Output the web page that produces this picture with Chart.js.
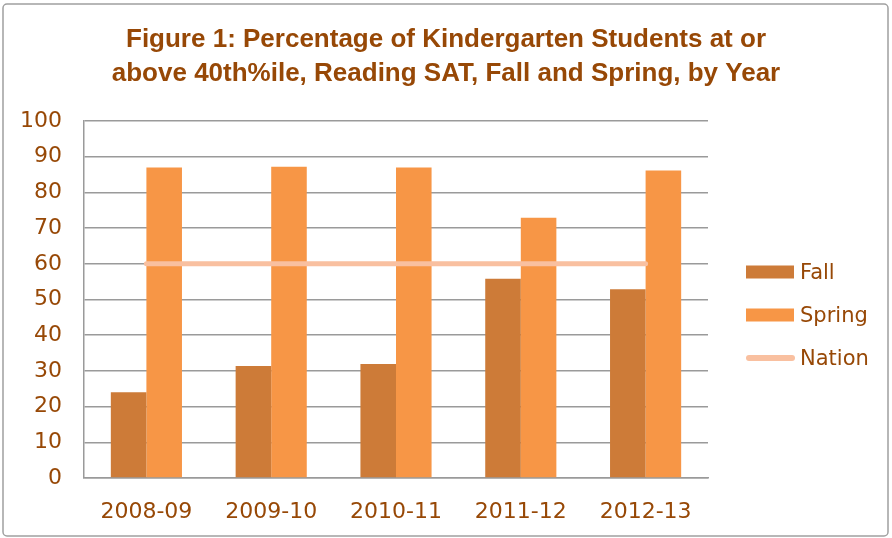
<!DOCTYPE html>
<html>
<head>
<meta charset="utf-8">
<script src="https://cdn.jsdelivr.net/npm/chart.js@4/dist/chart.umd.min.js"></script>
<style>
  html, body { margin: 0; padding: 0; background: #ffffff; }
  #wrap { width: 892px; height: 538px; position: relative; }
</style>
</head>
<body>
<div id="wrap"><canvas id="c" width="892" height="538"></canvas></div>
<script>
const titleLines = ['Figure 1: Percentage of Kindergarten Students at or', 'above 40th%ile, Reading SAT, Fall and Spring, by Year'];
const categories = ['2008-09', '2009-10', '2010-11', '2011-12', '2012-13'];
const fallValues = [24, 31.4, 31.9, 55.8, 52.9];
const springValues = [87, 87.2, 87, 72.9, 86.1];
const nationValues = [60, 60, 60, 60, 60];
const yMin = 0, yMax = 100, yStep = 10;

const TEXT = '#974806';
const FALL = '#CD7B38';
const SPRING = '#F79646';
const NATION = '#F9C0A0';
const GRID = '#9a9a9a';

const frame = {
  id: 'frame',
  beforeDraw(chart) {
    const ctx = chart.ctx;
    ctx.save();
    ctx.fillStyle = '#ffffff';
    ctx.fillRect(0, 0, chart.width, chart.height);
    ctx.strokeStyle = '#a0a0a0';
    ctx.lineWidth = 1.5;
    ctx.beginPath();
    ctx.roundRect(3, 4, chart.width - 7, chart.height - 6, 4);
    ctx.stroke();
    ctx.restore();
  }
};

const sideLegend = {
  id: 'sideLegend',
  afterDraw(chart) {
    const ctx = chart.ctx;
    const area = chart.chartArea;
    const x0 = area.right + 38;
    const sw = 48;
    let y = area.top + 151;
    const order = [1, 2, 0];
    ctx.save();
    order.forEach(i => {
      const ds = chart.data.datasets[i];
      if (ds.type === 'line') {
        ctx.strokeStyle = ds.borderColor;
        ctx.lineWidth = 6;
        ctx.lineCap = 'round';
        ctx.beginPath();
        ctx.moveTo(x0 + 3, y);
        ctx.lineTo(x0 + sw - 2, y);
        ctx.stroke();
      } else {
        ctx.fillStyle = ds.backgroundColor;
        ctx.fillRect(x0, y - 6.5, sw, 13);
      }
      ctx.fillStyle = TEXT;
      ctx.font = '21px "DejaVu Sans"';
      ctx.textBaseline = 'middle';
      ctx.textAlign = 'left';
      ctx.fillText(ds.label, x0 + sw + 6, y + 2);
      y += 43;
    });
    ctx.restore();
  }
};

new Chart(document.getElementById('c'), {
  type: 'bar',
  data: {
    labels: categories,
    datasets: [
      {
        type: 'line',
        label: 'Nation',
        data: nationValues,
        borderColor: NATION,
        backgroundColor: NATION,
        borderWidth: 5,
        borderCapStyle: 'round',
        pointRadius: 0,
        pointHoverRadius: 0,
        fill: false,
        order: 0
      },
      {
        label: 'Fall',
        data: fallValues,
        backgroundColor: FALL,
        borderWidth: 0,
        categoryPercentage: 0.57,
        barPercentage: 1.0,
        order: 1
      },
      {
        label: 'Spring',
        data: springValues,
        backgroundColor: SPRING,
        borderWidth: 0,
        categoryPercentage: 0.57,
        barPercentage: 1.0,
        order: 1
      }
    ]
  },
  options: {
    responsive: false,
    animation: false,
    devicePixelRatio: 1,
    layout: { padding: 0 },
    plugins: {
      legend: { display: false },
      tooltip: { enabled: false },
      title: {
        display: true,
        text: titleLines,
        color: TEXT,
        font: { family: '"Liberation Sans", Arial, sans-serif', size: 26, weight: 'bold', lineHeight: 34 / 26 },
        padding: { top: 23, bottom: 30 }
      }
    },
    scales: {
      x: {
        grid: { display: false, drawTicks: false },
        border: { display: true, color: GRID, width: 1.5 },
        ticks: {
          color: TEXT,
          font: { family: '"DejaVu Sans"', size: 22 },
          padding: 21,
          maxRotation: 0
        },
        afterFit(scale) { scale.height = 60; }
      },
      y: {
        min: yMin,
        max: yMax,
        grid: { color: GRID, lineWidth: 1.5, drawTicks: false },
        border: { display: true, color: GRID, width: 1.5 },
        ticks: {
          stepSize: yStep,
          color: TEXT,
          font: { family: '"DejaVu Sans"', size: 22 },
          padding: 22
        },
        afterFit(scale) { scale.width = 84; }
      },
      yr: {
        type: 'linear',
        position: 'right',
        display: true,
        grid: { display: false, drawTicks: false },
        border: { display: false },
        ticks: { display: false },
        afterFit(scale) { scale.width = 184; }
      }
    }
  },
  plugins: [frame, sideLegend]
});
</script>
</body>
</html>
